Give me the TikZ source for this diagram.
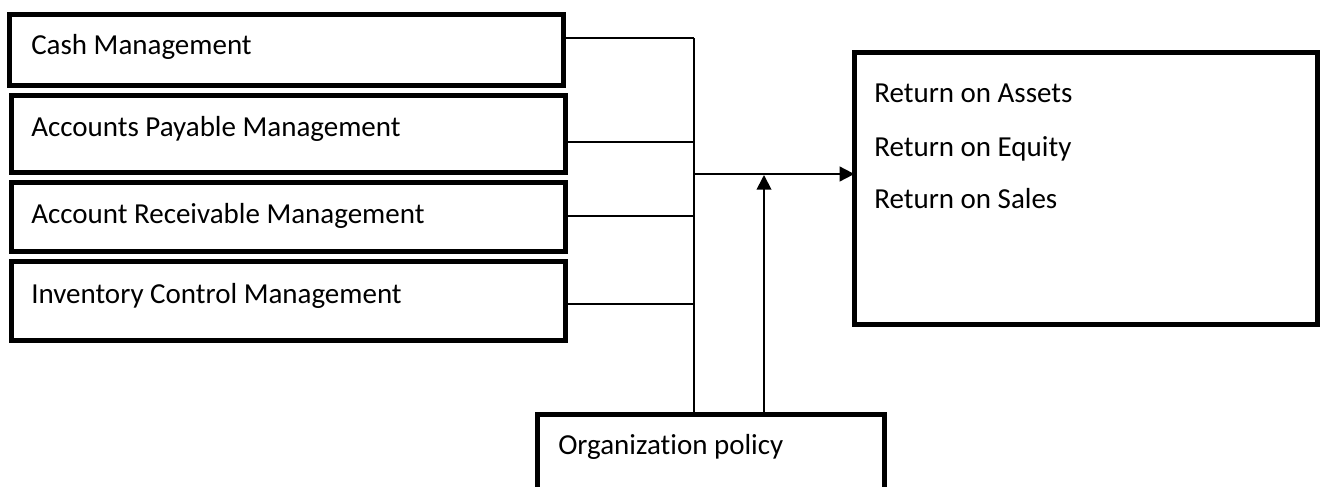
\documentclass[tikz,border=0pt]{standalone}
\usepackage{fontspec}
\setmainfont{Carlito}[Ligatures=NoCommon]
\usetikzlibrary{arrows.meta}
\begin{document}
\begin{tikzpicture}[x=0.75pt,y=-0.75pt,
  boxA/.style={draw=black, line width=3.5pt, inner sep=0pt, outer sep=0pt, anchor=north west, minimum width=#1},
  boxA/.default={554.3*0.75pt},
  lbl/.style={anchor=base west, inner sep=0pt, font=\fontsize{21.75pt}{26pt}\selectfont},
  conn/.style={draw=black, line width=1.4pt},
  arr/.style={conn, -{Triangle[length=11pt,width=11pt]}}]
\useasboundingbox (0,0) rectangle (1320,486);
\clip (0,0) rectangle (1320,486);
% left boxes
\node[boxA, minimum height={71.3*0.75pt}] (b1) at (9.35,14.35) {};
\node[boxA, minimum height={77.3*0.75pt}] (b2) at (11.35,95.35) {};
\node[boxA, minimum height={69.3*0.75pt}] (b3) at (11.35,182.35) {};
\node[boxA, minimum height={79.3*0.75pt}] (b4) at (11.35,261.35) {};
\node[lbl] (t1) at (31,54) {Cash Management};
\node[lbl] (t2) at (31,136) {Accounts Payable Management};
\node[lbl] (t3) at (31,223) {Account Receivable Management};
\node[lbl] (t4) at (31,303) {Inventory Control Management};
% right box
\node[boxA={463.3*0.75pt}, minimum height={272.3*0.75pt}] (res) at (854.35,52.35) {};
\node[lbl] (r1) at (874,102) {Return on Assets};
\node[lbl] (r2) at (874,156) {Return on Equity};
\node[lbl] (r3) at (874,208) {Return on Sales};
% organization policy
\node[boxA={347.3*0.75pt}, minimum height={100*0.75pt}] (org) at (537.35,414.35) {};
\node[lbl] (o1) at (558,454) {Organization policy};
% junction coordinates
\coordinate (j1) at (694,38);
\coordinate (j2) at (694,142);
\coordinate (j3) at (694,216);
\coordinate (j4) at (694,304);
\coordinate (ja) at (694,174);
\coordinate (up) at (764,175);
% connectors
\draw[conn] (b1.east |- j1) -- (j1);
\draw[conn] (b2.east |- j2) -- (j2);
\draw[conn] (b3.east |- j3) -- (j3);
\draw[conn] (b4.east |- j4) -- (j4);
\draw[conn] (j1) -- (j1 |- org.north);
\draw[arr] (ja) -- (res.west |- ja);
\draw[arr] (up |- org.north) -- (up);
\end{tikzpicture}
\end{document}
